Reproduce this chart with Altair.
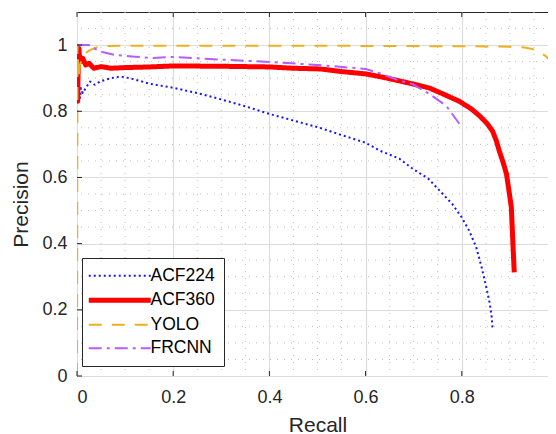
import altair as alt
import pandas as pd

series_names = ["ACF224", "ACF360", "YOLO", "FRCNN"]
series_colors = ["#1414FF", "#FF0000", "#EDB120", "#B75CFF"]
series_dashes = [[2, 3], [1, 0], [13, 10], [13, 5, 3, 5]]
series_widths = [2, 5, 2, 2]

acf224_recall = [0.002, 0.004, 0.006, 0.008, 0.012, 0.018, 0.027, 0.037, 0.048, 0.07, 0.09, 0.11,
                 0.152, 0.2, 0.25, 0.297, 0.35, 0.4, 0.45, 0.505, 0.55, 0.6, 0.629, 0.67, 0.698,
                 0.73, 0.754, 0.78, 0.8, 0.815, 0.83, 0.841, 0.851, 0.858, 0.862, 0.864]
acf224_precision = [0.83, 0.86, 0.84, 0.87, 0.855, 0.87, 0.89, 0.88, 0.89, 0.9, 0.905, 0.9,
                    0.883, 0.871, 0.855, 0.837, 0.815, 0.792, 0.772, 0.75, 0.728, 0.705, 0.681, 0.657, 0.626,
                    0.597, 0.56, 0.52, 0.479, 0.44, 0.389, 0.33, 0.268, 0.22, 0.18, 0.14]

acf360_recall = [0.0005, 0.001, 0.0015, 0.002, 0.003, 0.004, 0.005, 0.008, 0.012, 0.018, 0.025, 0.035,
                 0.05, 0.07, 0.1, 0.152, 0.2, 0.3, 0.4, 0.45, 0.505, 0.55, 0.6, 0.629, 0.67, 0.7,
                 0.733, 0.76, 0.795, 0.82, 0.837, 0.852, 0.864, 0.872, 0.878, 0.886, 0.893, 0.898,
                 0.903, 0.906, 0.909]
acf360_precision = [0.84, 0.88, 0.83, 0.9, 0.95, 0.99, 0.97, 0.95, 0.96, 0.94, 0.945, 0.93,
                    0.935, 0.93, 0.932, 0.934, 0.937, 0.936, 0.934, 0.93, 0.928, 0.92, 0.913, 0.905, 0.892, 0.882,
                    0.87, 0.853, 0.83, 0.807, 0.786, 0.764, 0.74, 0.71, 0.68, 0.645, 0.61, 0.56,
                    0.51, 0.41, 0.313]

yolo_recall = [0.0, 0.001, 0.003, 0.006, 0.012, 0.02, 0.027, 0.04, 0.062, 0.1, 0.3, 0.5, 0.7,
               0.85, 0.9, 0.93, 0.947, 0.958, 0.968, 0.976, 0.982]
yolo_precision = [0.0, 1.0, 0.9, 0.94, 0.965, 0.978, 0.985, 0.993, 0.997, 0.998, 0.998, 0.998, 0.997,
                  0.996, 0.995, 0.993, 0.988, 0.982, 0.973, 0.965, 0.955]

frcnn_recall = [0.0, 0.025, 0.035, 0.05, 0.08, 0.12, 0.152, 0.2, 0.25, 0.3, 0.4, 0.5, 0.6, 0.629,
                0.67, 0.698, 0.733, 0.768, 0.795]
frcnn_precision = [1.0, 1.0, 0.99, 0.98, 0.97, 0.965, 0.961, 0.964, 0.96, 0.956, 0.949, 0.94, 0.928, 0.915,
                   0.893, 0.882, 0.852, 0.816, 0.762]

x_ticks = [0, 0.2, 0.4, 0.6, 0.8, 1.0]
y_ticks = [0, 0.2, 0.4, 0.6, 0.8, 1.0]
x_minor = [0.05, 0.1, 0.15, 0.25, 0.3, 0.35, 0.45, 0.5, 0.55, 0.65, 0.7, 0.75, 0.85, 0.9, 0.95]
y_minor = [0.05, 0.1, 0.15, 0.25, 0.3, 0.35, 0.45, 0.5, 0.55, 0.65, 0.7, 0.75, 0.85, 0.9, 0.95, 1.05]

rows = []
for name, rs, ps in [("ACF224", acf224_recall, acf224_precision),
                     ("ACF360", acf360_recall, acf360_precision),
                     ("YOLO", yolo_recall, yolo_precision),
                     ("FRCNN", frcnn_recall, frcnn_precision)]:
    for i, (r, p) in enumerate(zip(rs, ps)):
        rows.append({"series": name, "recall": r, "precision": p, "order": i})
df = pd.DataFrame(rows)

W, H = 481, 364
FONT = "Liberation Sans"
AX = "#262626"

xscale = alt.Scale(domain=[0, 1], nice=False, zero=False)
yscale = alt.Scale(domain=[0, 1.1], nice=False, zero=False)

xaxis = alt.Axis(values=x_ticks, format="~g", title="Recall", grid=True, gridColor="#DCDCDC",
                 gridWidth=1.2, ticks=False, tickSize=0, domain=False, labelFont=FONT,
                 labelFontSize=18, labelColor=AX, labelPadding=12, titleFont=FONT,
                 titleFontSize=21, titleFontWeight="normal", titleColor=AX,
                 titleY=55, titleBaseline="alphabetic")
yaxis = alt.Axis(values=y_ticks, format="~g", title="Precision", grid=True, gridColor="#DCDCDC",
                 gridWidth=1.2, ticks=False, tickSize=0, domain=False, labelFont=FONT,
                 labelFontSize=18, labelColor=AX, labelPadding=10, titleFont=FONT,
                 titleFontSize=21, titleFontWeight="normal", titleColor=AX,
                 titleX=-50, titleY=192, titleBaseline="alphabetic")

xenc = lambda f: alt.X(f, scale=xscale, axis=xaxis)
yenc = lambda f: alt.Y(f, scale=yscale, axis=yaxis)

xminor_df = pd.DataFrame({"recall": x_minor})
yminor_df = pd.DataFrame({"precision": y_minor})
xt_df = pd.DataFrame({"recall": x_ticks})
yt_df = pd.DataFrame({"precision": y_ticks})

grid_x = alt.Chart(xminor_df).mark_rule(color="#BDBDBD", strokeDash=[1, 6], strokeWidth=1).encode(
    x=xenc("recall:Q"))
grid_y = alt.Chart(yminor_df).mark_rule(color="#BDBDBD", strokeDash=[1, 6], strokeWidth=1).encode(
    y=yenc("precision:Q"))

legend = alt.Legend(title=None)
lines = alt.Chart(df).mark_line(clip=True, strokeCap="butt", strokeJoin="round").encode(
    x=xenc("recall:Q"),
    y=yenc("precision:Q"),
    color=alt.Color("series:N", scale=alt.Scale(domain=series_names, range=series_colors), legend=legend),
    strokeDash=alt.StrokeDash("series:N", scale=alt.Scale(domain=series_names, range=series_dashes), legend=legend),
    strokeWidth=alt.StrokeWidth("series:N", scale=alt.Scale(type="ordinal", domain=series_names, range=series_widths), legend=legend),
    order=alt.Order("order:Q"),
)

tick_b = alt.Chart(xt_df).mark_rule(color=AX, strokeWidth=1).encode(
    x=xenc("recall:Q"), y=alt.value(H), y2=alt.value(H - 5))
tick_t = alt.Chart(xt_df).mark_rule(color=AX, strokeWidth=1).encode(
    x=xenc("recall:Q"), y=alt.value(0), y2=alt.value(5))
tick_l = alt.Chart(yt_df).mark_rule(color=AX, strokeWidth=1).encode(
    y=yenc("precision:Q"), x=alt.value(0), x2=alt.value(5))
tick_r = alt.Chart(yt_df).mark_rule(color=AX, strokeWidth=1).encode(
    y=yenc("precision:Q"), x=alt.value(W), x2=alt.value(W - 5))

chart = alt.layer(grid_x, grid_y, lines, tick_b, tick_t, tick_l, tick_r).properties(
    width=W, height=H,
    autosize=alt.AutoSizeParams(type="none"),
    padding={"left": 69, "top": 4, "right": -10, "bottom": 58},
).configure_view(
    stroke=AX, strokeWidth=1
).configure_legend(
    orient="none", legendX=5, legendY=246, fillColor="white", strokeColor=AX,
    padding=9, labelFont=FONT, labelFontSize=17.5, labelColor="black",
    symbolType="M-31,0L31,0", symbolSize=4, symbolOffset=20, labelOffset=22,
    rowPadding=4.5, cornerRadius=0, labelLimit=200
)

chart.save("out.html", embed_options={"renderer": "svg", "actions": False})
